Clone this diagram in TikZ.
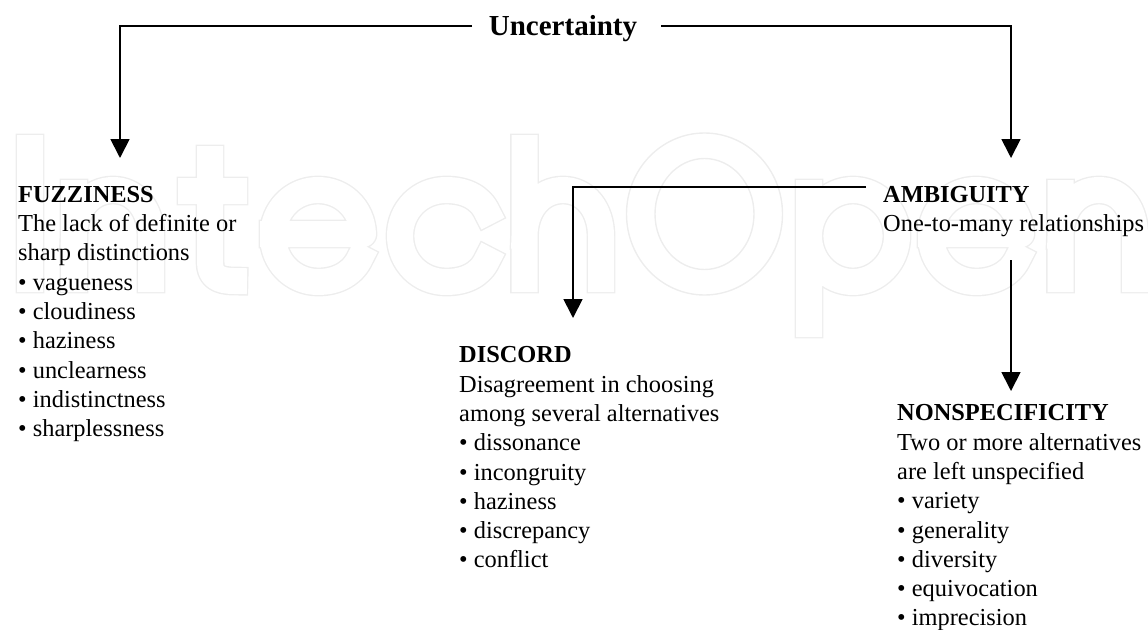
\documentclass[tikz,border=0pt]{standalone}
\usepackage{fontspec}
\setmainfont{Liberation Serif}
\usetikzlibrary{arrows.meta}
\tikzset{
  flow/.style={line width=1.8pt},
  blurb/.style={anchor=north west, inner sep=0pt, align=left, font=\fontsize{24.4}{29.3}\selectfont},
  stamp/.style={line cap=rect, line join=round}
}
% the strokes of the letters behind the text
\def\stampletters{
  (30, 148) -- (30, 279)
  (74, 193) -- (74, 279) (74, 236) .. controls (74, 210) and (90, 190) .. (113, 190) .. controls (136, 190) and (151, 210) .. (151, 236) -- (151, 279)
  (210, 159) -- (210, 262) .. controls (210, 276) and (218, 281) .. (234, 281) (191, 191) -- (234, 191)
  (273, 234) -- (363, 234) .. controls (362, 208) and (342, 190) .. (318, 190) .. controls (293, 190) and (273, 210) .. (273, 236) .. controls (273, 262) and (293, 282) .. (318, 282) .. controls (338, 282) and (353, 273) .. (360, 258)
  (487, 212) .. controls (480, 197) and (465, 190) .. (446, 190) .. controls (420, 190) and (400, 210) .. (400, 236) .. controls (400, 262) and (420, 282) .. (446, 282) .. controls (465, 282) and (480, 275) .. (487, 260)
  (524.5, 148) -- (524.5, 279) (524.5, 236) .. controls (524.5, 210) and (540, 190) .. (563, 190) .. controls (586, 190) and (601, 210) .. (601, 236) -- (601, 279)
  (809, 193) -- (809, 324) (853, 236) ellipse (44 and 46)
  (931, 234) -- (1021, 234) .. controls (1020, 208) and (1000, 190) .. (976, 190) .. controls (951, 190) and (931, 210) .. (931, 236) .. controls (931, 262) and (951, 282) .. (976, 282) .. controls (996, 282) and (1011, 273) .. (1018, 258)
  (1060.5, 193) -- (1060.5, 279) (1060.5, 236) .. controls (1060.5, 210) and (1076, 190) .. (1099, 190) .. controls (1122, 190) and (1135, 210) .. (1135, 236) -- (1135, 279)
}
\begin{document}
\begin{tikzpicture}[x=1pt, y=-1pt, >={Triangle[length=19pt, width=19pt]}]
  \useasboundingbox (0, 0) rectangle (1148, 629);

  \begin{scope}
    \clip (0, 0) rectangle (1148, 629);
    \draw[stamp, line width=28.8pt, black!7] \stampletters;
    \draw[stamp, line width=26pt, white] \stampletters;
    \draw[black!7, line width=1.4pt] (704.5, 214) ellipse (78 and 81) (704.5, 214) ellipse (49.5 and 55.5);
  \end{scope}

  \node[inner sep=0pt, font=\bfseries\fontsize{29}{30}\selectfont] (uncertainty) at (563, 29) {Uncertainty};

  \node[blurb] (fuzziness) at (18, 186) {\textbf{FUZZINESS}\\The lack of definite or\\sharp distinctions\\• vagueness\\• cloudiness\\• haziness\\• unclearness\\• indistinctness\\• sharplessness};
  \node[blurb] (ambiguity) at (883, 186) {\textbf{AMBIGUITY}\\One-to-many relationships};
  \node[blurb] (discord) at (459, 346.5) {\textbf{DISCORD}\\Disagreement in choosing\\among several alternatives\\• dissonance\\• incongruity\\• haziness\\• discrepancy\\• conflict};
  \node[blurb] (nonspecificity) at (897, 404.5) {\textbf{NONSPECIFICITY}\\Two or more alternatives\\are left unspecified\\• variety\\• generality\\• diversity\\• equivocation\\• imprecision};

  \coordinate (uleft) at (472, 26);
  \coordinate (uright) at (661, 26);
  \coordinate (fuzzyin) at (120, 158);
  \coordinate (ambigin) at (1011, 158);
  \coordinate (discordin) at (573, 318);
  \coordinate (nonspecin) at (1011, 391);
  \coordinate (ambigout) at (866, 187);
  \coordinate (ambigdown) at (1011, 260);

  \draw[flow, ->] (uleft) -| (fuzzyin);
  \draw[flow, ->] (uright) -| (ambigin);
  \draw[flow, ->] (ambigout) -| (discordin);
  \draw[flow, ->] (ambigdown) -- (nonspecin);
\end{tikzpicture}
\end{document}
